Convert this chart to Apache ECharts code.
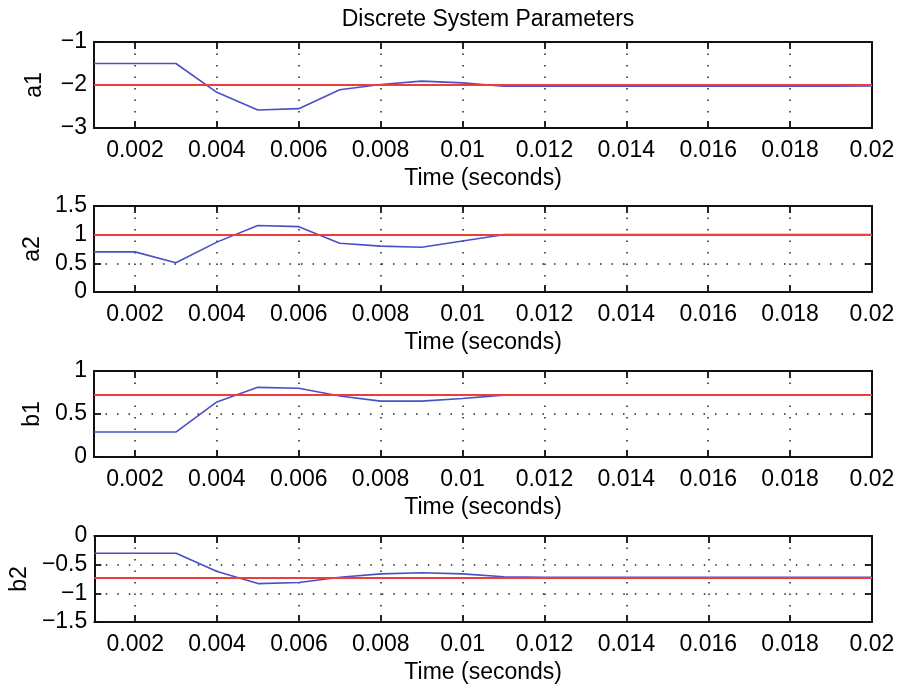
<!DOCTYPE html>
<html>
<head>
<meta charset="utf-8">
<title>Discrete System Parameters</title>
<script src="https://cdn.jsdelivr.net/npm/echarts@6/dist/echarts.min.js"></script>
<style>
  html, body { margin: 0; padding: 0; background: #fff; }
  #main { width: 900px; height: 687px; }
</style>
</head>
<body>
<div id="main"></div>
<script>
// sample times (s)
var timeSec = [0.001, 0.002, 0.003, 0.004, 0.005, 0.006, 0.007, 0.008, 0.009, 0.010,
               0.011, 0.012, 0.013, 0.014, 0.015, 0.016, 0.017, 0.018, 0.019, 0.020];

// estimated parameters (blue)
var a1Est = [-1.5, -1.5, -1.5, -2.17, -2.58, -2.55, -2.11, -1.99, -1.91, -1.95,
             -2.03, -2.03, -2.03, -2.03, -2.03, -2.03, -2.03, -2.03, -2.03, -2.02];
var a2Est = [0.70, 0.70, 0.51, 0.87, 1.16, 1.14, 0.85, 0.80, 0.78, 0.89,
             1.0, 1.0, 1.0, 1.0, 1.0, 1.0, 1.0, 1.0, 1.0, 1.0];
var b1Est = [0.29, 0.29, 0.29, 0.64, 0.81, 0.80, 0.71, 0.65, 0.65, 0.68,
             0.72, 0.72, 0.72, 0.72, 0.72, 0.72, 0.72, 0.72, 0.72, 0.72];
var b2Est = [-0.30, -0.30, -0.30, -0.62, -0.83, -0.81, -0.72, -0.66, -0.64, -0.66,
             -0.71, -0.72, -0.72, -0.72, -0.72, -0.72, -0.72, -0.72, -0.72, -0.72];

// true parameter values (red)
var a1True = -2;
var a2True = 1;
var b1True = 0.72;
var b2True = -0.72;

// ticks
var xTicks = [0.002, 0.004, 0.006, 0.008, 0.010, 0.012, 0.014, 0.016, 0.018, 0.020];
var names = ['a1', 'a2', 'b1', 'b2'];
var yRanges = [[-3, -1, 1], [0, 1.5, 0.5], [0, 1, 0.5], [-1.5, 0, 0.5]];

var estAll = [a1Est, a2Est, b1Est, b2Est];
var trueAll = [a1True, a2True, b1True, b2True];

var FONT = '"Liberation Sans", Arial, Helvetica, sans-serif';
var FS = 23;
var gridTops = [42, 206, 371, 536];

function fmtNum(v) {
  var s = String(+v.toFixed(4));
  return v < 0 ? '\u2212' + s.replace('-', '') : s;
}

var grids = [], xAxes = [], yAxes = [], series = [];
var frameLine = { show: true, onZero: false, lineStyle: { color: '#111', width: 2 } };
var tickStyle = { color: '#111', width: 1.8 };
var dotted = { show: true, lineStyle: { color: '#222', width: 1.5, type: [1.5, 10] } };

for (var i = 0; i < 4; i++) {
  grids.push({ left: 94, top: gridTops[i], width: 778, height: 86, show: false });

  // bottom x axis (labels + ticks)
  xAxes.push({
    type: 'value', gridIndex: i, min: 0.001, max: 0.02, position: 'bottom',
    name: 'Time (seconds)', nameLocation: 'middle', nameGap: 39,
    nameTextStyle: { fontFamily: FONT, fontSize: FS, color: '#000' },
    axisLine: frameLine,
    axisTick: { show: true, inside: true, length: 7, customValues: xTicks, lineStyle: tickStyle },
    axisLabel: { customValues: xTicks, margin: 11, fontFamily: FONT, fontSize: FS, color: '#000', formatter: fmtNum },
    splitLine: dotted
  });
  // left y axis
  var r = yRanges[i];
  yAxes.push({
    type: 'value', gridIndex: i, min: r[0], max: r[1], interval: r[2], position: 'left',
    name: names[i], nameLocation: 'middle', nameGap: 48,
    nameTextStyle: { fontFamily: FONT, fontSize: FS, color: '#000' },
    axisLine: frameLine,
    axisTick: { show: true, inside: true, length: 7, lineStyle: tickStyle },
    axisLabel: { margin: 7, fontFamily: FONT, fontSize: FS, color: '#000', formatter: fmtNum },
    splitLine: dotted
  });

  var pts = [];
  for (var k = 0; k < timeSec.length; k++) pts.push([timeSec[k], estAll[i][k]]);

  series.push({
    type: 'line', xAxisIndex: i, yAxisIndex: i, data: pts,
    symbol: 'none', silent: true, z: 3,
    lineStyle: { color: '#4b4fc6', width: 1.6 },
    markLine: {
      silent: true, symbol: 'none', label: { show: false },
      lineStyle: { color: '#f03c3c', width: 2.2, type: 'solid' },
      data: [{ yAxis: trueAll[i] }]
    }
  });
}

// top / right axes: frame + inward ticks only (like MATLAB box on)
for (var j = 0; j < 4; j++) {
  var rr = yRanges[j];
  xAxes.push({
    type: 'value', gridIndex: j, min: 0.001, max: 0.02, position: 'top',
    axisLine: frameLine,
    axisTick: { show: true, inside: true, length: 7, customValues: xTicks, lineStyle: tickStyle },
    axisLabel: { show: false, customValues: xTicks },
    splitLine: { show: false }
  });
  yAxes.push({
    type: 'value', gridIndex: j, min: rr[0], max: rr[1], interval: rr[2], position: 'right',
    axisLine: frameLine,
    axisTick: { show: true, inside: true, length: 7, lineStyle: tickStyle },
    axisLabel: { show: false },
    splitLine: { show: false }
  });
}

var chart = echarts.init(document.getElementById('main'), null, { renderer: 'canvas' });
chart.setOption({
  backgroundColor: '#fff',
  animation: false,
  title: {
    text: 'Discrete System Parameters', left: 483, top: 3, textAlign: 'center',
    textStyle: { fontFamily: FONT, fontSize: FS, fontWeight: 'normal', color: '#000' }
  },
  grid: grids,
  xAxis: xAxes,
  yAxis: yAxes,
  series: series
});
</script>
</body>
</html>
